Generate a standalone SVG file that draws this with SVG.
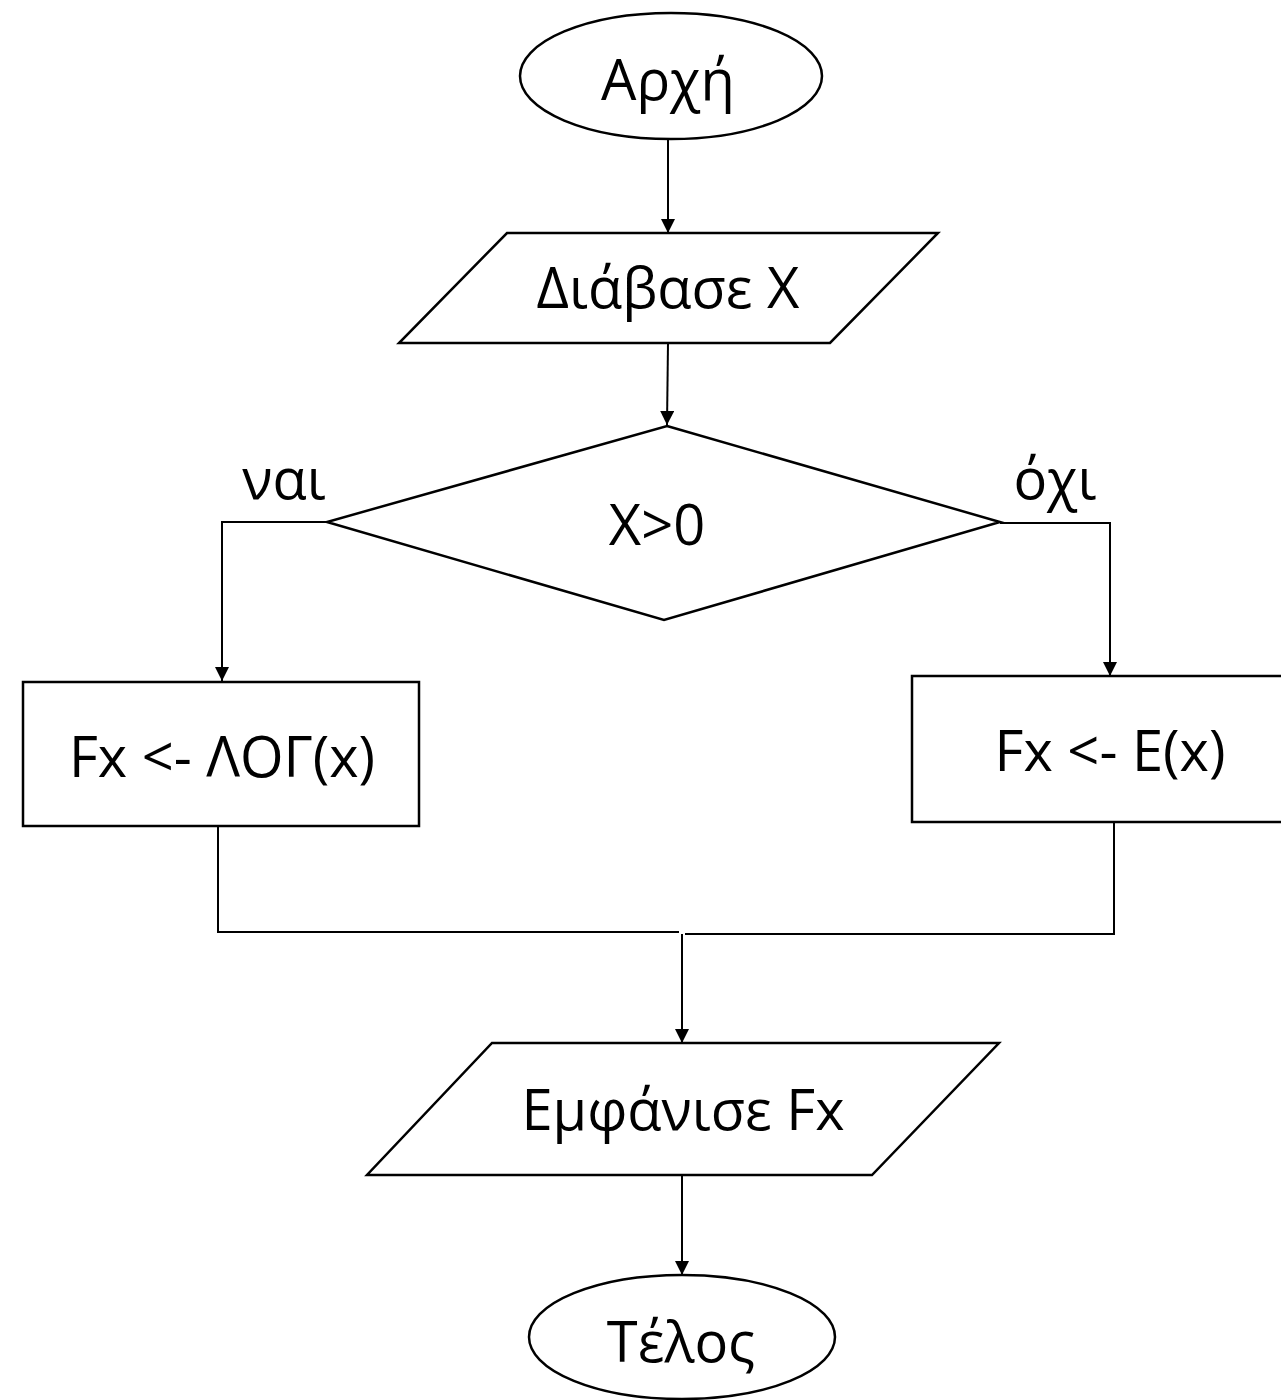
<svg xmlns="http://www.w3.org/2000/svg" width="1281" height="1400" viewBox="0 0 1281 1400">
  <style>
    .shape { fill: #ffffff; stroke: #000000; stroke-width: 2.5; }
    .link { fill: none; stroke: #000000; stroke-width: 2; }
    .label { font-family: "Open Sans", "Noto Sans", "DejaVu Sans", sans-serif; font-size: 56px; fill: #000000; text-anchor: middle; }
  </style>
  <defs>
    <marker id="arrow" markerUnits="userSpaceOnUse" markerWidth="14" markerHeight="14" viewBox="0 0 14 14" refX="14" refY="7" orient="auto">
      <path d="M0,0 L14,7 L0,14 Z" fill="#000000"/>
    </marker>
  </defs>
  <rect x="0" y="0" width="1281" height="1400" fill="#ffffff"/>

  <!-- connectors -->
  <g id="connectors">
    <line class="link" x1="668" y1="139" x2="668" y2="233" marker-end="url(#arrow)"/>
    <line class="link" x1="668" y1="343" x2="667" y2="425" marker-end="url(#arrow)"/>
    <polyline class="link" points="327,522 222,522 222,681" marker-end="url(#arrow)"/>
    <polyline class="link" points="1000,523 1110,523 1110,676" marker-end="url(#arrow)"/>
    <polyline class="link" points="218,822 218,932 679,932"/>
    <polyline class="link" points="1114,822 1114,934 685,934"/>
    <line class="link" x1="682" y1="934" x2="682" y2="1043" marker-end="url(#arrow)"/>
    <line class="link" x1="682" y1="1175" x2="682" y2="1275" marker-end="url(#arrow)"/>
  </g>

  <!-- start -->
  <g id="start">
    <ellipse class="shape" cx="671" cy="76" rx="151" ry="63"/>
    <text class="label" x="668" y="100">Αρχή</text>
  </g>

  <!-- input -->
  <g id="read-x">
    <polygon class="shape" points="507,233 938,233 830,343 399,343"/>
    <text class="label" x="668" y="308">Διάβασε X</text>
  </g>

  <!-- decision -->
  <g id="decision">
    <polygon class="shape" points="667,426 1000,522 664,620 327,522"/>
    <text class="label" x="657" y="545">X&gt;0</text>
    <text class="label" x="284" y="499">ναι</text>
    <text class="label" x="1055" y="499">όχι</text>
  </g>

  <!-- yes branch -->
  <g id="log-branch">
    <rect class="shape" x="23" y="682" width="396" height="144"/>
    <text class="label" x="222" y="777">Fx &lt;- ΛΟΓ(x)</text>
  </g>

  <!-- no branch -->
  <g id="exp-branch">
    <rect class="shape" x="912" y="676" width="380" height="146"/>
    <text class="label" x="1110" y="771">Fx &lt;- E(x)</text>
  </g>

  <!-- output -->
  <g id="show-fx">
    <polygon class="shape" points="492,1043 999,1043 872,1175 367,1175"/>
    <text class="label" x="683" y="1130">Εμφάνισε Fx</text>
  </g>

  <!-- end -->
  <g id="end">
    <ellipse class="shape" cx="682" cy="1337" rx="153" ry="62"/>
    <text class="label" x="681" y="1362">Τέλος</text>
  </g>
</svg>
